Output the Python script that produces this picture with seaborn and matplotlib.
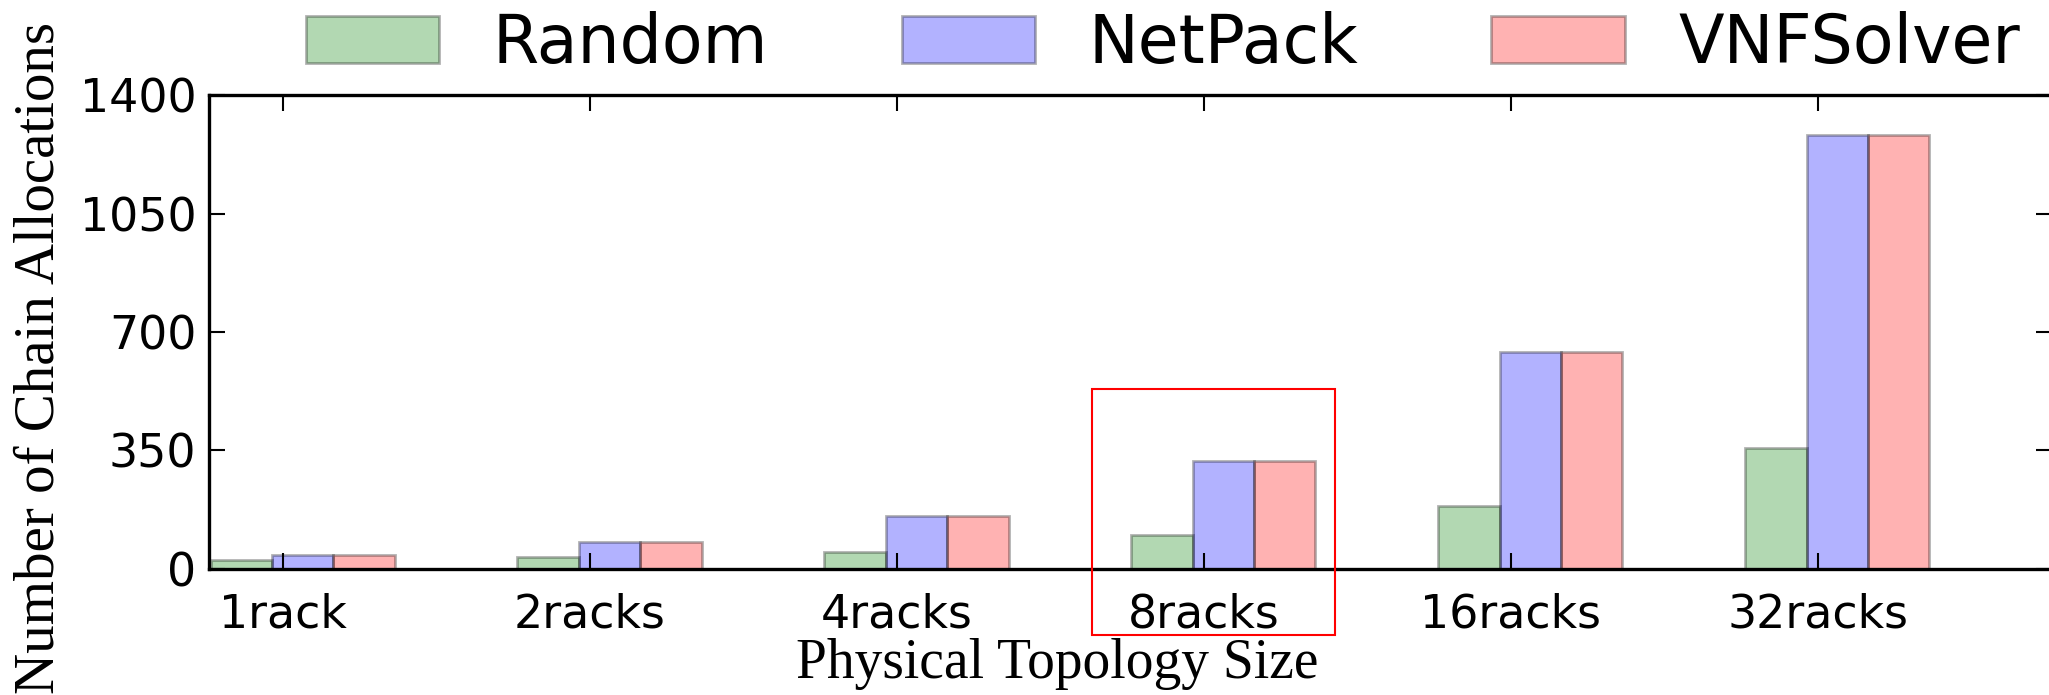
import numpy as np
import pandas as pd
import matplotlib
matplotlib.use("Agg")
import matplotlib.pyplot as plt
from matplotlib.patches import Patch, Rectangle
import seaborn as sns

# values
topologies = ["1rack", "2racks", "4racks", "8racks", "16racks", "32racks"]
methods = ["Random", "NetPack", "VNFSolver"]
random_alloc = [27, 36, 51, 101, 186, 358]
netpack_alloc = [41, 80, 158, 320, 640, 1282]
vnfsolver_alloc = [41, 79, 158, 320, 640, 1282]
y_ticks = [0, 350, 700, 1050, 1400]

colors = {"Random": "g", "NetPack": "b", "VNFSolver": "r"}

df = pd.DataFrame({
    "topology": topologies * 3,
    "method": np.repeat(methods, len(topologies)),
    "count": random_alloc + netpack_alloc + vnfsolver_alloc,
})

sns.set_style("white")
plt.rcParams["font.family"] = ["DejaVu Sans"]
plt.rcParams["text.color"] = "black"

fig = plt.figure(figsize=(20.49, 6.95), dpi=100)
ax = fig.add_axes([0.102, 0.1813, 0.8995, 0.682])

sns.barplot(data=df, x="topology", y="count", hue="method", palette=colors,
            width=0.6, gap=0, saturation=1, alpha=0.3, edgecolor="k",
            linewidth=2, errorbar=None, legend=False, ax=ax)

# group is slightly off-centre from its tick in the original
ax.set_xticks(np.arange(len(topologies)) - 0.0635)
ax.set_xticklabels(topologies)
ax.set_xlim(-0.305, 5.70)
ax.set_ylim(0, 1400)
ax.set_yticks(y_ticks)
ax.set_axisbelow(False)

for side in ["top", "bottom", "left", "right"]:
    ax.spines[side].set_visible(True)
    ax.spines[side].set_linewidth(2.4)
    ax.spines[side].set_color("black")
    ax.spines[side].set_zorder(5)

ax.tick_params(axis="both", direction="in", length=11.5, width=1.5,
               top=True, right=True, bottom=True, left=True,
               labelsize=33, colors="black")
ax.tick_params(axis="x", pad=17)
ax.tick_params(axis="y", pad=9)
ax.set_xlabel("")
ax.set_ylabel("")

fig.text(1057 / 2049, 1 - 678 / 695, "Physical Topology Size",
         family="Liberation Serif", fontsize=40, ha="center", va="baseline")
fig.text(14 / 2049, 1 - 358 / 695, "Number of Chain Allocations",
         family="Liberation Serif", fontsize=41, rotation=90,
         ha="left", va="center")

handles = [Patch(facecolor=colors[m], edgecolor="k", alpha=0.3, linewidth=2, label=m)
           for m in methods]
fig.legend(handles=handles, loc="center", ncol=3, frameon=False, fontsize=48,
           bbox_to_anchor=(1163 / 2049, 1 - 43.5 / 695))

# red highlight box around the 8racks group
fig.patches.append(Rectangle((1092 / 2049, 1 - 635 / 695), 243 / 2049, 246 / 695,
                             transform=fig.transFigure, fill=False,
                             edgecolor="red", linewidth=1.5))

fig.savefig("out.png", dpi=100)
